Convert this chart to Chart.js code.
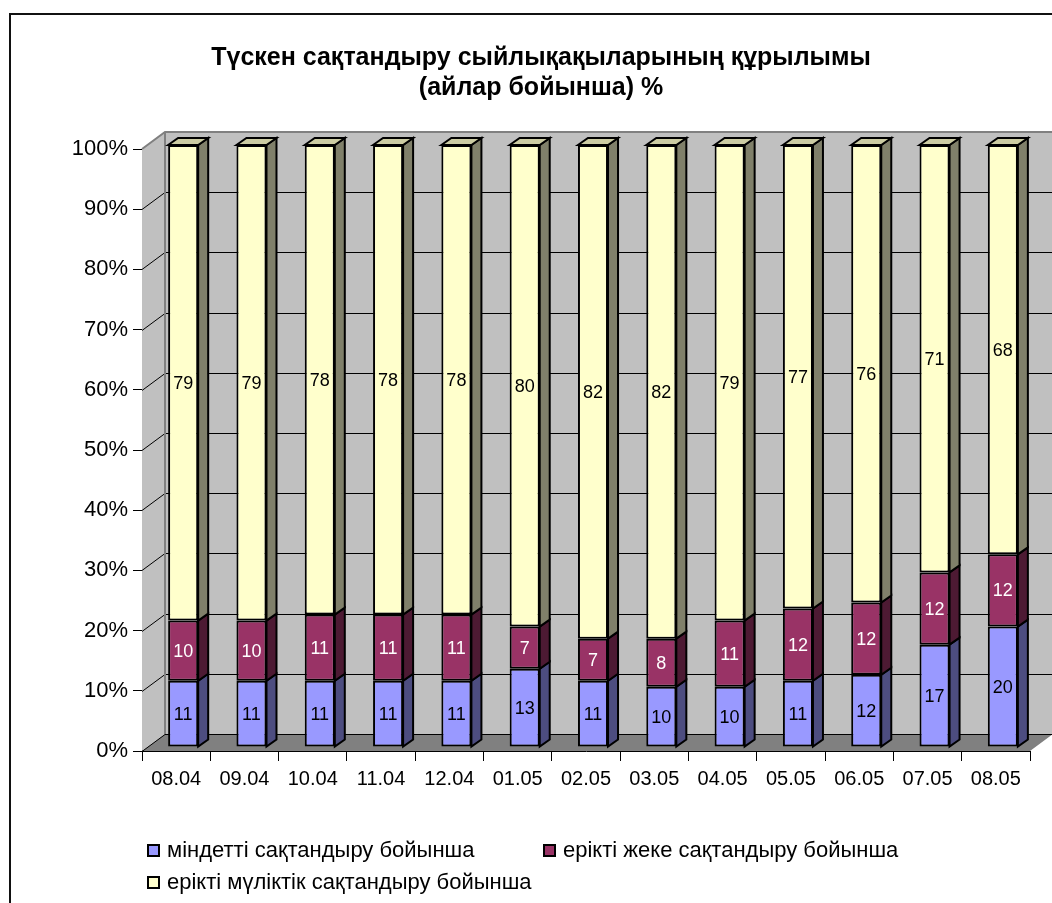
<!DOCTYPE html>
<html>
<head>
<meta charset="utf-8">
<script src="https://cdn.jsdelivr.net/npm/chart.js@4.4.0/dist/chart.umd.min.js"></script>
<style>
  html,body{margin:0;padding:0;background:#fff;overflow:hidden;}
  #wrap{position:relative;width:1052px;height:903px;overflow:hidden;}
  #frame{position:absolute;left:9px;top:13px;width:1200px;height:1000px;border:2px solid #111;box-sizing:border-box;}
  #c{position:absolute;left:0;top:0;}
  .leg{position:absolute;height:24px;display:flex;align-items:center;white-space:nowrap;
       font:22px "Liberation Sans",Arial,sans-serif;color:#000;}
  .leg i{display:inline-block;width:9px;height:9px;border:2px solid #000;margin-right:7px;}
</style>
</head>
<body>
<div id="wrap">
  <div id="frame"></div>
  <canvas id="c" width="1082" height="903"></canvas>
  <div id="legend"></div>
</div>
<script>
// data
const months = ['08.04','09.04','10.04','11.04','12.04','01.05','02.05','03.05','04.05','05.05','06.05','07.05','08.05'];
const mandatory = [11,11,11,11,11,13,11,10,10,11,12,17,20];
const voluntaryPersonal = [10,10,11,11,11,7,7,8,11,12,12,12,12];
const voluntaryProperty = [79,79,78,78,78,80,82,82,79,77,76,71,68];
const seriesNames = ['міндетті сақтандыру бойынша','ерікті жеке сақтандыру бойынша','ерікті мүліктік сақтандыру бойынша'];
const titleLines = ['Түскен сақтандыру сыйлықақыларының құрылымы','(айлар бойынша) %'];

// colours
const frontCol = ['#9999ff','#993366','#ffffcc'];
const sideCol = ['#4d4d80','#4d1a33','#80806a'];
const topCol = '#cccca3';
const labelCol = ['#000','#fff','#000'];

// 3d offsets
const D = {x:23, y:-17};   // wall depth
const F = {x:7, y:-4};     // bar front face shift
const S = {x:10, y:-7};    // bar depth

const FONT = '"Liberation Sans", Arial, sans-serif';

function poly(ctx, pts, fill, stroke, lw){
  ctx.beginPath();
  ctx.moveTo(pts[0][0], pts[0][1]);
  for(let i=1;i<pts.length;i++) ctx.lineTo(pts[i][0], pts[i][1]);
  ctx.closePath();
  if(fill){ ctx.fillStyle = fill; ctx.fill(); }
  if(stroke){ ctx.strokeStyle = stroke; ctx.lineWidth = lw||1; ctx.stroke(); }
}

const box3d = {
  id:'box3d',
  beforeDatasetsDraw(chart){
    const {ctx, chartArea:a, scales:{y}} = chart;
    ctx.save();
    // walls + floor
    poly(ctx, [[a.left,a.top],[a.left+D.x,a.top+D.y],[a.left+D.x,a.bottom+D.y],[a.left,a.bottom]], '#c0c0c0');
    poly(ctx, [[a.left+D.x,a.top+D.y],[a.right+D.x,a.top+D.y],[a.right+D.x,a.bottom+D.y],[a.left+D.x,a.bottom+D.y]], '#c0c0c0');
    poly(ctx, [[a.left,a.bottom],[a.right,a.bottom],[a.right+D.x,a.bottom+D.y],[a.left+D.x,a.bottom+D.y]], '#808080');
    // gridlines
    ctx.strokeStyle = '#000'; ctx.lineWidth = 1;
    y.ticks.forEach(t=>{
      if(t.value >= 100) return;
      const py = Math.round(y.getPixelForValue(t.value)) + 0.5;
      ctx.beginPath();
      ctx.moveTo(a.left, py);
      ctx.lineTo(a.left+D.x, py+D.y);
      ctx.lineTo(a.right+D.x, py+D.y);
      ctx.stroke();
    });
    // wall outline
    ctx.strokeStyle = '#808080'; ctx.lineWidth = 2;
    ctx.beginPath();
    ctx.moveTo(a.left, a.top);
    ctx.lineTo(a.left+D.x, a.top+D.y);
    ctx.lineTo(a.right+D.x, a.top+D.y);
    ctx.moveTo(a.left+D.x, a.top+D.y);
    ctx.lineTo(a.left+D.x, a.bottom+D.y);
    ctx.stroke();
    // bar sides and tops
    const last = chart.data.datasets.length-1;
    chart.data.datasets.forEach((ds,i)=>{
      chart.getDatasetMeta(i).data.forEach(bar=>{
        const p = bar.getProps(['x','y','base','width'], true);
        const x0 = p.x - p.width/2 + F.x, x1 = p.x + p.width/2 + F.x;
        const t = Math.min(p.y,p.base) + F.y, b = Math.max(p.y,p.base) + F.y;
        poly(ctx, [[x1,t],[x1+S.x,t+S.y],[x1+S.x,b+S.y],[x1,b]], sideCol[i], '#000', 2);
        if(i===last) poly(ctx, [[x0,t],[x0+S.x,t+S.y],[x1+S.x,t+S.y],[x1,t]], topCol, '#000', 2);
      });
    });
    ctx.translate(F.x, F.y);
  },
  afterDatasetsDraw(chart){
    const {ctx} = chart;
    ctx.restore();
    ctx.save();
    ctx.font = '18px ' + FONT;
    ctx.textAlign = 'center';
    ctx.textBaseline = 'middle';
    chart.data.datasets.forEach((ds,i)=>{
      chart.getDatasetMeta(i).data.forEach((bar,j)=>{
        const p = bar.getProps(['x','y','base'], true);
        ctx.fillStyle = labelCol[i];
        ctx.fillText(String(ds.data[j]), p.x + F.x, (p.y+p.base)/2 + F.y + 1);
      });
    });
    ctx.restore();
  }
};

const datasets = [mandatory, voluntaryPersonal, voluntaryProperty].map((d,i)=>({
  label: seriesNames[i],
  data: d,
  backgroundColor: frontCol[i],
  borderColor: '#000',
  borderWidth: 2,
  borderSkipped: false,
  barPercentage: 0.44,
  categoryPercentage: 1,
  clip: false
}));

new Chart(document.getElementById('c'), {
  type:'bar',
  data:{ labels: months, datasets },
  options:{
    responsive:false,
    animation:false,
    layout:{ padding:{ left:52, right:52, top:0, bottom:92 } },
    plugins:{
      legend:{ display:false },
      tooltip:{ enabled:false },
      title:{
        display:true,
        text: titleLines,
        color:'#000',
        font:{ family: FONT, size:25, weight:'bold', lineHeight:1.2 },
        padding:{ top:43, bottom:46 }
      }
    },
    scales:{
      x:{
        stacked:true,
        z:1,
        grid:{ drawOnChartArea:false, drawTicks:true, tickLength:10, color:'#000', offset:true },
        border:{ display:true, color:'#000', width:1 },
        ticks:{ color:'#000', font:{ family: FONT, size:20 }, padding:6, maxRotation:0, autoSkip:false },
        afterFit(s){ s.height = 60; }
      },
      y:{
        stacked:true,
        min:0, max:100,
        z:1,
        grid:{ drawOnChartArea:false, drawTicks:true, tickLength:9, color:'#000' },
        border:{ display:true, color:'#000', width:1 },
        ticks:{ stepSize:10, color:'#000', font:{ family: FONT, size:22 }, padding:5, callback:v=>v+'%' },
        afterFit(s){ s.width = 90; }
      }
    }
  },
  plugins:[box3d]
});

// legend
const legPos = [[147,838],[543,838],[147,870]];
const leg = document.getElementById('legend');
seriesNames.forEach((n,i)=>{
  const d = document.createElement('div');
  d.className = 'leg';
  d.style.left = legPos[i][0]+'px';
  d.style.top = legPos[i][1]+'px';
  d.innerHTML = `<i style="background:${frontCol[i]}"></i>${n}`;
  leg.appendChild(d);
});
</script>
</body>
</html>
